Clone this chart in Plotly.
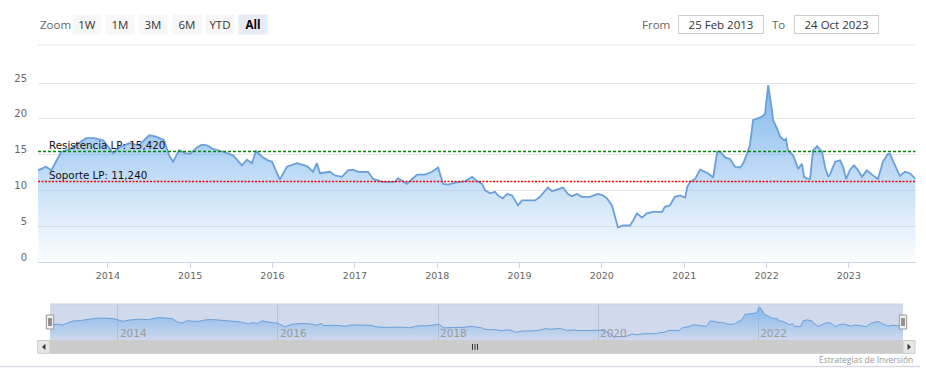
import plotly.graph_objects as go

# ---------------- data ----------------
dates = [
    "2013-02-25", "2013-04-02", "2013-04-25", "2013-05-16", "2013-06-08", "2013-07-13",
    "2013-08-26", "2013-09-26", "2013-11-01", "2013-12-11", "2014-01-24", "2014-02-20",
    "2014-04-05", "2014-05-19", "2014-07-03", "2014-08-03", "2014-09-07", "2014-09-29",
    "2014-10-17", "2014-11-13", "2014-12-09", "2015-01-01", "2015-01-31", "2015-02-22",
    "2015-03-17", "2015-04-12", "2015-05-27", "2015-07-10", "2015-08-19", "2015-09-10",
    "2015-10-02", "2015-10-20", "2015-11-16", "2015-12-12", "2015-12-30", "2016-01-21",
    "2016-02-03", "2016-03-05", "2016-04-19", "2016-06-02", "2016-06-29", "2016-07-16",
    "2016-07-30", "2016-09-12", "2016-10-04", "2016-11-04", "2016-12-01", "2016-12-24",
    "2017-01-15", "2017-02-28", "2017-03-23", "2017-05-02", "2017-05-28", "2017-06-28",
    "2017-07-11", "2017-07-29", "2017-08-20", "2017-09-11", "2017-10-04", "2017-11-08",
    "2017-12-09", "2018-01-05", "2018-01-27", "2018-02-18", "2018-03-21", "2018-05-05",
    "2018-06-05", "2018-06-27", "2018-07-19", "2018-08-01", "2018-08-23", "2018-09-14",
    "2018-09-27", "2018-10-19", "2018-11-07", "2018-11-29", "2018-12-12", "2018-12-25",
    "2019-01-12", "2019-02-03", "2019-03-11", "2019-04-02", "2019-04-24", "2019-05-07",
    "2019-05-25", "2019-06-16", "2019-07-13", "2019-08-04", "2019-08-22", "2019-09-13",
    "2019-10-05", "2019-11-10", "2019-12-15", "2020-01-06", "2020-01-24", "2020-02-15",
    "2020-02-28", "2020-03-13", "2020-04-04", "2020-05-05", "2020-05-19", "2020-06-05",
    "2020-06-27", "2020-07-19", "2020-08-15", "2020-09-24", "2020-10-07", "2020-10-29",
    "2020-11-20", "2020-12-13", "2021-01-05", "2021-01-14", "2021-01-27", "2021-02-18",
    "2021-03-12", "2021-04-03", "2021-04-16", "2021-05-09", "2021-05-27", "2021-06-09",
    "2021-07-01", "2021-07-23", "2021-08-14", "2021-09-05", "2021-09-18", "2021-10-06",
    "2021-10-19", "2021-11-02", "2021-11-20", "2021-12-12", "2021-12-25", "2022-01-03",
    "2022-01-08", "2022-01-21", "2022-01-30", "2022-02-17", "2022-03-02", "2022-03-20",
    "2022-03-28", "2022-04-06", "2022-04-29", "2022-05-21", "2022-06-07", "2022-06-16",
    "2022-07-04", "2022-07-13", "2022-07-26", "2022-08-13", "2022-09-04", "2022-09-17",
    "2022-10-01", "2022-10-10", "2022-11-01", "2022-11-23", "2022-12-06", "2022-12-20",
    "2023-01-06", "2023-01-24", "2023-02-11", "2023-02-28", "2023-03-22", "2023-04-18",
    "2023-05-10", "2023-06-01", "2023-06-23", "2023-07-02", "2023-07-24", "2023-08-15",
    "2023-09-06", "2023-09-28", "2023-10-24",
]
values = [
    12.8, 13.3, 12.8, 14.0, 15.4, 15.7,
    16.6, 17.3, 17.3, 17.0, 15.2, 16.0,
    16.6, 16.3, 17.7, 17.5, 17.0, 14.9,
    14.0, 15.6, 15.2, 15.1, 16.0, 16.4,
    16.3, 15.8, 15.4, 14.9, 13.5, 14.3,
    13.8, 15.5, 14.7, 14.2, 14.0, 12.3,
    11.5, 13.3, 13.8, 13.4, 12.6, 13.8,
    12.4, 12.6, 12.1, 11.9, 12.8, 12.9,
    12.6, 12.6, 11.6, 11.2, 11.2, 11.2,
    11.7, 11.3, 10.9, 11.6, 12.2, 12.2,
    12.6, 13.2, 10.9, 10.8, 11.1, 11.3,
    11.9, 11.3, 10.9, 10.0, 9.6, 9.8,
    9.3, 8.9, 9.5, 9.3, 8.6, 7.9,
    8.6, 8.6, 8.6, 9.1, 10.0, 10.4,
    9.9, 10.1, 10.4, 9.5, 9.2, 9.5,
    9.1, 9.1, 9.5, 9.3, 8.9, 7.9,
    6.5, 4.8, 5.1, 5.1, 5.8, 6.8,
    6.2, 6.8, 7.0, 7.0, 7.7, 7.9,
    9.1, 9.3, 9.0, 10.5, 11.2, 11.6,
    12.9, 12.6, 12.4, 11.8, 15.4, 15.4,
    14.6, 14.4, 13.3, 13.2, 13.7, 15.1,
    16.3, 19.8, 20.0, 20.3, 20.7, 23.7,
    24.7, 22.1, 19.8, 18.6, 17.5, 17.0,
    17.2, 15.6, 14.9, 13.0, 13.7, 11.9,
    11.6, 11.6, 15.6, 16.2, 15.4, 13.3,
    11.9, 12.3, 14.0, 14.2, 13.3, 11.6,
    12.9, 13.5, 12.8, 11.9, 12.8, 12.1,
    11.6, 14.0, 15.1, 15.1, 13.5, 12.0,
    12.6, 12.4, 11.6,
]
resistance = 15.420
support = 11.240
resistance_label = "Resistencia LP"
support_label = "Soporte LP"
range_start = "2013-02-25"
range_end = "2023-10-24"
from_label = "25 Feb 2013"
to_label = "24 Oct 2023"
y_ticks = [0, 5, 10, 15, 20, 25]
zoom_buttons = ["1W", "1M", "3M", "6M", "YTD", "All"]
credits = "Estrategias de Inversión"

# ---------------- helpers (pixel -> paper) ----------------
W, H = 926, 378


def X(p):
    return p / W


def Y(p):
    return 1 - p / H


def fmt_es(v):
    return f"{v:.3f}".replace(".", ",")


LINE = "#6b9fd9"
FONT = "DejaVu Sans"
UIFONT = "Open Sans"
GREEN = "#008800"
RED = "#ff0000"

vmax = max(values)
vmin = min(values)
pad = 0.1 * (vmax - vmin)
nav_lo, nav_hi = vmin - pad, vmax + pad

fig = go.Figure()

fig.add_trace(go.Scatter(
    x=dates, y=values, mode="lines",
    line=dict(color=LINE, width=1.8),
    fill="tozeroy",
    fillgradient=dict(type="vertical", start=0, stop=vmax,
                      colorscale=[[0, "rgba(124,181,236,0.02)"], [1, "rgba(124,181,236,0.95)"]]),
    xaxis="x", yaxis="y", hoverinfo="x+y", showlegend=False,
))

fig.add_trace(go.Scatter(
    x=dates, y=values, mode="lines",
    line=dict(color=LINE, width=1),
    fill="tozeroy",
    fillgradient=dict(type="vertical", start=nav_lo, stop=vmax,
                      colorscale=[[0, "rgba(124,181,236,0.05)"], [1, "rgba(124,181,236,0.9)"]]),
    xaxis="x2", yaxis="y2", hoverinfo="skip", showlegend=False,
))

shapes = []
annotations = []

# support / resistance plot lines
fig.add_trace(go.Scatter(x=[range_start, range_end], y=[resistance, resistance], mode="lines",
                         line=dict(color=GREEN, width=1.5, dash="3px,2px"),
                         xaxis="x", yaxis="y", hoverinfo="skip", showlegend=False))
fig.add_trace(go.Scatter(x=[range_start, range_end], y=[support, support], mode="lines",
                         line=dict(color=RED, width=1.5, dash="2px,1.5px"),
                         xaxis="x", yaxis="y", hoverinfo="skip", showlegend=False))
for lab, val in [(resistance_label, resistance), (support_label, support)]:
    annotations.append(dict(xref="paper", yref="y", x=X(46.5), y=val, xanchor="left", yanchor="middle",
                            yshift=6.8, showarrow=False, text=f"{lab}: {fmt_es(val)}",
                            font=dict(family=FONT, size=10.3, color="#111111")))

# navigator mask
shapes.append(dict(type="rect", xref="x2 domain", yref="y2 domain", x0=0, x1=1, y0=0, y1=1,
                   fillcolor="rgba(102,133,194,0.3)", line=dict(width=0), layer="below"))
shapes.append(dict(type="line", xref="paper", yref="paper", x0=X(50), x1=X(903), y0=Y(304), y1=Y(304),
                   line=dict(color="#c8cfe0", width=1)))


def prect(x0, y0, x1, y1, fill, line=None, lw=0):
    return dict(type="rect", xref="paper", yref="paper", x0=X(x0), x1=X(x1), y0=Y(y1), y1=Y(y0),
                fillcolor=fill, line=dict(color=line or fill, width=lw), layer="above")


def pline(x0, y0, x1, y1, color, lw=1):
    return dict(type="line", xref="paper", yref="paper", x0=X(x0), x1=X(x1), y0=Y(y0), y1=Y(y1),
                line=dict(color=color, width=lw), layer="above")


def ppath(pts, fill):
    d = "M " + " L ".join(f"{X(a):.5f},{Y(b):.5f}" for a, b in pts) + " Z"
    return dict(type="path", xref="paper", yref="paper", path=d, fillcolor=fill,
                line=dict(color=fill, width=0.5), layer="above")


# scrollbar
shapes.append(prect(37.7, 340.5, 915, 353.3, "#f2f2f2"))
shapes.append(prect(50, 340.5, 903, 353.3, "#cccccc", "#cccccc", 1))
shapes.append(prect(37.7, 340.5, 50, 353.3, "#e6e6e6", "#cccccc", 1))
shapes.append(prect(903, 340.5, 915, 353.3, "#e6e6e6", "#cccccc", 1))
shapes.append(ppath([(45.2, 344.3), (42.4, 346.9), (45.2, 349.5)], "#333333"))
shapes.append(ppath([(907.8, 344.3), (910.6, 346.9), (907.8, 349.5)], "#333333"))
for gx in (472.5, 475, 477.5):
    shapes.append(pline(gx, 344, gx, 349.8, "#333333", 1))

# navigator handles
for hx in (46.3, 899.3):
    shapes.append(prect(hx, 315, hx + 7.4, 329, "#f2f2f2", "#999999", 1))
    shapes.append(pline(hx + 2.7, 318, hx + 2.7, 326, "#333333", 1))
    shapes.append(pline(hx + 4.7, 318, hx + 4.7, 326, "#333333", 1))

# thin separators
shapes.append(pline(38, 45, 915, 45, "#efefef", 1.5))
shapes.append(pline(0, 366.5, 920, 366.5, "#d9d9e4", 1.5))

# zoom label + buttons
annotations.append(dict(xref="paper", yref="paper", x=X(37.5), y=Y(24.5), xanchor="left", yanchor="middle",
                        showarrow=False, text="Zoom", font=dict(family=UIFONT, size=11.5, color="#666666")))
btn_centers = [86.7, 120, 153.3, 186.7, 220, 253.3]
for lab, cx in zip(zoom_buttons, btn_centers):
    sel = lab == "All"
    annotations.append(dict(xref="paper", yref="paper", x=X(cx), y=Y(24.7), xanchor="center", yanchor="middle",
                            showarrow=False, text=f"<b>{lab}</b>" if sel else lab,
                            width=28, height=19, borderpad=0,
                            bgcolor="#e6ebf5" if sel else "#f7f7f7",
                            font=dict(family=UIFONT, size=11.5, color="#000000" if sel else "#333333")))

# from / to
annotations.append(dict(xref="paper", yref="paper", x=X(671.7), y=Y(24.5), xanchor="right", yanchor="middle",
                        showarrow=False, text="From", font=dict(family=UIFONT, size=11.5, color="#666666")))
annotations.append(dict(xref="paper", yref="paper", x=X(721.2), y=Y(24.7), xanchor="center", yanchor="middle",
                        showarrow=False, text=from_label, width=84, height=17, borderpad=0,
                        bgcolor="#ffffff", bordercolor="#cccccc", borderwidth=1,
                        font=dict(family=UIFONT, size=11.5, color="#333333")))
annotations.append(dict(xref="paper", yref="paper", x=X(787), y=Y(24.5), xanchor="right", yanchor="middle",
                        showarrow=False, text="To", font=dict(family=UIFONT, size=11.5, color="#666666")))
annotations.append(dict(xref="paper", yref="paper", x=X(836.7), y=Y(24.7), xanchor="center", yanchor="middle",
                        showarrow=False, text=to_label, width=83, height=17, borderpad=0,
                        bgcolor="#ffffff", bordercolor="#cccccc", borderwidth=1,
                        font=dict(family=UIFONT, size=11.5, color="#333333")))

# credits
annotations.append(dict(xref="paper", yref="paper", x=X(915), y=Y(359), xanchor="right", yanchor="middle",
                        showarrow=False, text=credits, font=dict(family=UIFONT, size=8.5, color="#999999")))

fig.update_layout(
    width=W, height=H, autosize=False,
    margin=dict(l=0, r=0, t=0, b=0, pad=0, autoexpand=False),
    paper_bgcolor="#ffffff", plot_bgcolor="rgba(0,0,0,0)",
    showlegend=False,
    xaxis=dict(domain=[X(38), X(915.6)], type="date", range=[range_start, range_end], anchor="y",
               automargin=False,
               tick0="2014-01-01", dtick="M12", tickformat="%Y",
               showgrid=False, zeroline=False, showline=True, linecolor="#ccd6eb", linewidth=1,
               ticks="outside", ticklen=5, tickcolor="#ccd6eb",
               tickfont=dict(family=FONT, size=9.5, color="#666666"), fixedrange=True),
    yaxis=dict(domain=[Y(262), Y(72)], range=[0, 190 / 7.16], anchor="x", automargin=False,
               tickvals=y_ticks, showgrid=True, gridcolor="#e6e6e6", gridwidth=1, zeroline=False,
               showline=False, ticks="", ticklabelshift=-5, ticklabelstandoff=10,
               tickfont=dict(family=FONT, size=10, color="#666666"), fixedrange=True),
    xaxis2=dict(domain=[X(50), X(903)], type="date", range=[range_start, range_end], anchor="y2",
                automargin=False,
                tick0="2014-01-01", dtick="M24", tickformat="%Y",
                showgrid=True, gridcolor="rgba(120,130,160,0.28)", gridwidth=1, zeroline=False,
                showline=False, ticks="", ticklabelposition="inside right", ticklabelshift=2,
                ticklabelstandoff=-5,
                tickfont=dict(family=FONT, size=10.5, color="#999999"), fixedrange=True),
    yaxis2=dict(domain=[Y(340), Y(304)], range=[nav_lo, nav_hi], anchor="x2", automargin=False,
                showgrid=False, zeroline=False, showticklabels=False, ticks="", fixedrange=True),
    shapes=shapes,
    annotations=annotations,
)

fig.write_html("out.html", config={"displayModeBar": False},
               post_script="document.body.style.margin='0';document.body.style.overflow='hidden';")
